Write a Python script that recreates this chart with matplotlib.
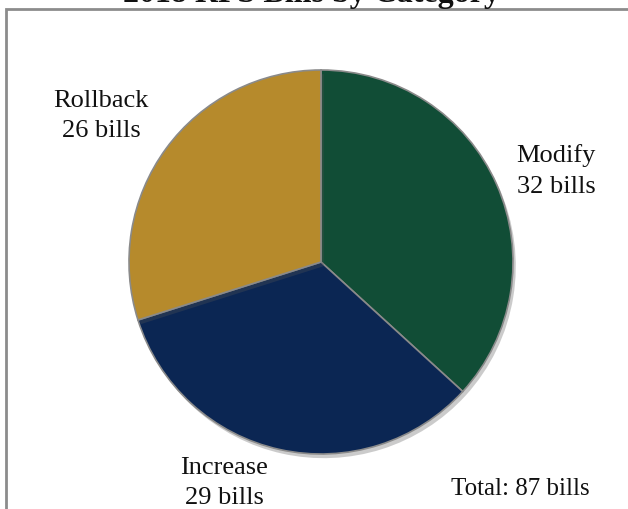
import matplotlib
matplotlib.use("Agg")
import matplotlib.pyplot as plt
from matplotlib.patches import Rectangle
import matplotlib.patheffects as pe

categories = ["Modify", "Increase", "Rollback"]
bills = [32, 29, 26]
colors = ["#114d36", "#0b2653", "#b68a2c"]
title = "2018 RPS Bills by Category"

plt.rcParams['font.family'] = ['Liberation Serif', 'DejaVu Serif']

W, H = 628, 510
fig = plt.figure(figsize=(W / 100, H / 100), dpi=100)

# border frame (extends past right and bottom edges)
fig.patches.append(Rectangle((6 / W, -0.05), 1.1, (H - 10) / H + 0.05,
                             transform=fig.transFigure, fill=False,
                             edgecolor="#8c8c8c", linewidth=2))

cx, cy, r = 321, 263, 192
ax = fig.add_axes([(cx - r) / W, (H - cy - r) / H, 2 * r / W, 2 * r / H])
wedges, _ = ax.pie(bills, colors=colors, startangle=90, counterclock=False,
                   radius=1,
                   wedgeprops=dict(edgecolor="#8a8a8a", linewidth=1.2,
                                   path_effects=[pe.SimplePatchShadow(offset=(2, -3), alpha=0.3,
                                                                      shadow_rgbFace="#555555"),
                                                 pe.Normal()]))
ax.set_xlim(-1, 1)
ax.set_ylim(-1, 1)
ax.set_aspect("equal")
ax.axis("off")

# label positions (axes data coords, radius = 1)
label_pos = {"Modify": (1.225, 0.48), "Increase": (-0.505, -1.145), "Rollback": (-1.145, 0.765)}
for cat, val in zip(categories, bills):
    x, y = label_pos[cat]
    ax.text(x, y, f"{cat}\n{val} bills", ha="center", va="center",
            fontsize=19, linespacing=1.5, color="#111111")

total = sum(bills)
ax.text(1.04, -1.175, f"Total: {total} bills", ha="center", va="center",
        fontsize=18, color="#111111")

fig.text(0.496, 1 - 2 / H, title, ha="center", va="baseline",
         fontsize=23, fontweight="bold", color="#111111")

fig.savefig("out.png", dpi=100)
